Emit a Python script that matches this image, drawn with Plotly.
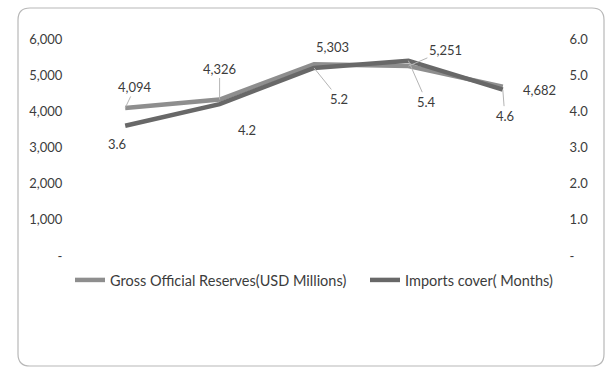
import plotly.graph_objects as go

# Five consecutive periods (no category labels are shown on the axis)
periods = [0, 1, 2, 3, 4]
reserves = [4094, 4326, 5303, 5251, 4682]        # Gross Official Reserves, USD millions
import_cover = [3.6, 4.2, 5.2, 5.4, 4.6]          # Imports cover, months

left_ticks = [0, 1000, 2000, 3000, 4000, 5000, 6000]
left_text = ["-", "1,000", "2,000", "3,000", "4,000", "5,000", "6,000"]
right_ticks = [0, 1, 2, 3, 4, 5, 6]
right_text = ["-", "1.0", "2.0", "3.0", "4.0", "5.0", "6.0"]

# label offsets (px) and whether an Excel-style leader line is drawn
res_offsets = [(10, -21, True), (0, -31, True), (18, -17, False), (37, -16, True), (37, 3, False)]
cov_offsets = [(-8, 18, False), (27, 26, True), (25, 31, True), (18, 41, True), (2, 26, True)]

W, H = 613, 375
FONT = "Lato"
TXT = "#3c3c3c"

fig = go.Figure()
fig.add_trace(go.Scatter(
    x=periods, y=reserves, mode="lines", name="Gross Official Reserves(USD Millions)",
    line=dict(color="#8e8e8e", width=4.5), yaxis="y", hoverinfo="skip", legend="legend"))
fig.add_trace(go.Scatter(
    x=periods, y=import_cover, mode="lines", name="Imports cover( Months)",
    line=dict(color="#686868", width=4.5), yaxis="y2", hoverinfo="skip", legend="legend2"))

annotations = []
for x, v, (dx, dy, lead) in zip(periods, reserves, res_offsets):
    annotations.append(dict(
        x=x, y=v, xref="x", yref="y", text=f"{v:,}", showarrow=True,
        ax=dx, ay=dy, arrowhead=0, arrowwidth=1,
        arrowcolor="#b4b4b4" if lead else "rgba(0,0,0,0)",
        font=dict(family=FONT, size=13, color=TXT)))
for x, v, (dx, dy, lead) in zip(periods, import_cover, cov_offsets):
    annotations.append(dict(
        x=x, y=v, xref="x", yref="y2", text=f"{v:.1f}", showarrow=True,
        ax=dx, ay=dy, arrowhead=0, arrowwidth=1,
        arrowcolor="#b4b4b4" if lead else "rgba(0,0,0,0)",
        font=dict(family=FONT, size=13, color=TXT)))


def px(xp, yp):
    return xp / W, 1 - yp / H


# rounded chart border
x0, y0, x1, y1, r = 18, 8, 604, 366, 12
path = (f"M {x0 + r},{y0} L {x1 - r},{y0} Q {x1},{y0} {x1},{y0 + r} "
        f"L {x1},{y1 - r} Q {x1},{y1} {x1 - r},{y1} L {x0 + r},{y1} "
        f"Q {x0},{y1} {x0},{y1 - r} L {x0},{y0 + r} Q {x0},{y0} {x0 + r},{y0} Z")


def conv(p):
    out = []
    for tok in p.split():
        if "," in tok:
            a, b = tok.split(",")
            fx, fy = px(float(a), float(b))
            out.append(f"{fx:.5f},{fy:.5f}")
        else:
            out.append(tok)
    return " ".join(out)


shapes = [dict(type="path", xref="paper", yref="paper", path=conv(path),
               line=dict(color="#b8b8b8", width=1.2), layer="below")]

plot_l, plot_r = 78, 550
plot_t, plot_b = 39, 256

legend_style = dict(orientation="h", y=1 - 264 / H, xanchor="left", yanchor="top",
                    font=dict(family=FONT, size=14.5, color=TXT),
                    bgcolor="rgba(0,0,0,0)")

fig.update_layout(
    width=W, height=H,
    margin=dict(l=0, r=0, t=0, b=0, pad=0, autoexpand=False),
    paper_bgcolor="white", plot_bgcolor="white",
    font=dict(family=FONT, size=13, color=TXT),
    showlegend=True,
    legend=dict(x=70 / W, **legend_style),
    legend2=dict(x=365 / W, **legend_style),
    xaxis=dict(domain=[plot_l / W, plot_r / W], range=[-0.5, 4.5], showgrid=False,
               zeroline=False, showline=False, showticklabels=False, ticks="",
               automargin=False),
    yaxis=dict(domain=[1 - plot_b / H, 1 - plot_t / H], range=[0, 6000],
               tickvals=left_ticks, ticktext=left_text, showgrid=False, zeroline=False,
               showline=False, ticks="outside", ticklen=12, tickcolor="rgba(0,0,0,0)",
               tickfont=dict(family=FONT, size=13, color=TXT), automargin=False),
    yaxis2=dict(overlaying="y", side="right", range=[0, 6],
                tickvals=right_ticks, ticktext=right_text, showgrid=False, zeroline=False,
                showline=False, ticks="outside", ticklen=16, tickcolor="rgba(0,0,0,0)",
                tickfont=dict(family=FONT, size=13, color=TXT), automargin=False),
    annotations=annotations,
    shapes=shapes,
)

fig.write_html("out.html")
